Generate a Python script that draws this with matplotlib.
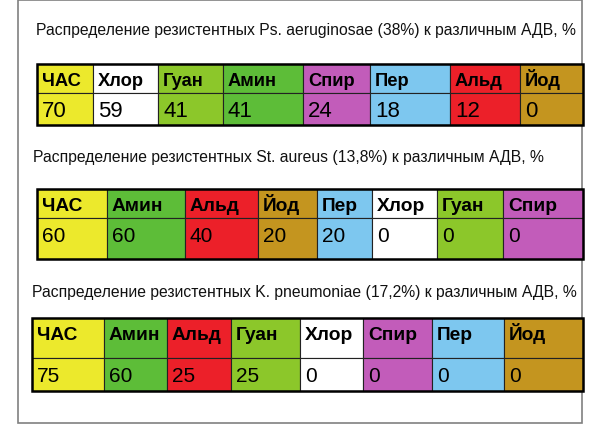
import matplotlib
matplotlib.use('Agg')
import matplotlib.pyplot as plt
from matplotlib.patches import Rectangle

plt.rcParams['font.family'] = ['Liberation Sans', 'DejaVu Sans']

# Данные трёх таблиц
titles = [
    'Распределение резистентных Ps. aeruginosae (38%) к различным АДВ, %',
    'Распределение резистентных St. aureus (13,8%) к различным АДВ, %',
    'Распределение резистентных K. pneumoniae (17,2%) к различным АДВ, %',
]
agents_ps = ['ЧАС', 'Хлор', 'Гуан', 'Амин', 'Спир', 'Пер', 'Альд', 'Йод']
values_ps = [70, 59, 41, 41, 24, 18, 12, 0]
agents_st = ['ЧАС', 'Амин', 'Альд', 'Йод', 'Пер', 'Хлор', 'Гуан', 'Спир']
values_st = [60, 60, 40, 20, 20, 0, 0, 0]
agents_kp = ['ЧАС', 'Амин', 'Альд', 'Гуан', 'Хлор', 'Спир', 'Пер', 'Йод']
values_kp = [75, 60, 25, 25, 0, 0, 0, 0]

# цвет каждого средства
colors = {
    'ЧАС': '#ece92c',
    'Хлор': '#ffffff',
    'Гуан': '#8cc72a',
    'Амин': '#5dbd38',
    'Спир': '#c25cba',
    'Пер': '#7dc7ef',
    'Альд': '#ec2029',
    'Йод': '#c4951f',
}

# раскладка: границы столбцов и строк, базовые линии текста (в пикселях)
layout = [
    dict(x=[37, 93, 158, 223, 303, 370, 450, 520, 583], y=[64, 93, 125],
         title_xy=(36, 35), base=(86, 117), hsize=13.2, vsize=16),
    dict(x=[37, 107, 185, 258, 317, 372, 437, 503, 583], y=[189, 218, 259],
         title_xy=(33, 162), base=(211, 242), hsize=13.8, vsize=15),
    dict(x=[32, 104, 167, 231, 300, 363, 432, 504, 583], y=[318, 358, 391],
         title_xy=(32, 297), base=(340, 382), hsize=13.8, vsize=15),
]
tables = [(agents_ps, values_ps), (agents_st, values_st), (agents_kp, values_kp)]

fig = plt.figure(figsize=(6, 4.24), dpi=100)
ax = fig.add_axes([0, 0, 1, 1])
ax.set_xlim(0, 600)
ax.set_ylim(424, 0)
ax.axis('off')

# серая рамка
ax.add_patch(Rectangle((18, 0), 564, 423, fill=False, edgecolor='#808080', lw=1.2))

for title, (agents, values), lay in zip(titles, tables, layout):
    xs, ys = lay['x'], lay['y']
    ax.text(lay['title_xy'][0], lay['title_xy'][1], title, fontsize=11.3,
            ha='left', va='baseline', color='#111111')
    for i, (name, val) in enumerate(zip(agents, values)):
        x0, x1 = xs[i], xs[i + 1]
        for r in range(2):
            ax.add_patch(Rectangle((x0, ys[r]), x1 - x0, ys[r + 1] - ys[r],
                                   facecolor=colors[name], edgecolor='#222222', lw=0.8))
        ax.text(x0 + 5, lay['base'][0], name, fontsize=lay['hsize'],
                fontweight='bold', ha='left', va='baseline', color='black')
        ax.text(x0 + 5, lay['base'][1], str(val), fontsize=lay['vsize'],
                ha='left', va='baseline', color='black')
    ax.add_patch(Rectangle((xs[0], ys[0]), xs[-1] - xs[0], ys[-1] - ys[0],
                           fill=False, edgecolor='black', lw=1.8))

fig.savefig('out.png', dpi=100)
